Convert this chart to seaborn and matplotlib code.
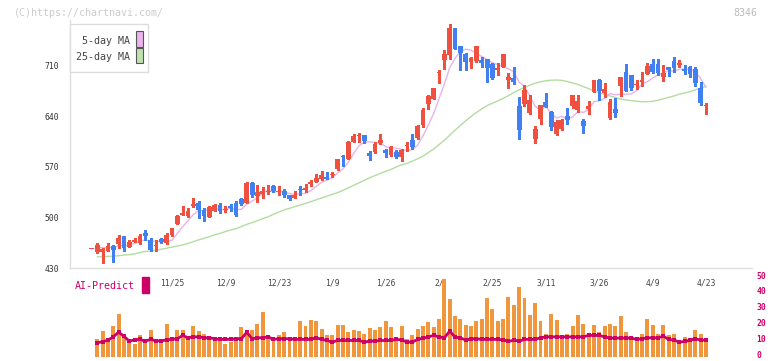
import numpy as np
import pandas as pd
import seaborn as sns
import matplotlib.pyplot as plt
from matplotlib.patches import Rectangle

# trading day index, 0 = 11/25
day = np.arange(-15, 101)

opens = [456, 451.7, 452.6, 453.6, 460.5, 463.3, 474.4, 459.1, 466.5, 465.1, 479.0, 468.8, 460.0, 470.2, 464.2,
         475.7, 491.0, 503.4, 502.1, 516.4, 520.1, 510.4, 501.1, 509.5, 517.3,
         510.4, 516.4, 520.5, 525.6, 520.5, 547.3, 530.2, 532.6, 535.8, 543.6,
         535.8, 536.7, 531.2, 527.5, 539.5, 538.1, 546.0, 549.7, 553.3, 556.1,
         559.5, 566.7, 584.3, 581.5, 605.1, 613.5, 614.3, 589.8, 591.2, 602.8,
         593.5, 586.6, 590.7, 584.3, 599.5, 607.4, 609.7, 628.2, 657.3, 664.2,
         700.5, 718.3, 725.7, 762.6, 737.7, 727.0, 715.0, 716.9, 718.3, 719.6,
         712.7, 704.4, 708.6, 690.5, 693.3, 654.5, 657.3, 644.8, 608.8, 636.5,
         660.1, 646.2, 615.7, 622.6, 640.7, 654.5, 649.0, 633.7, 650.4, 674.4,
         690.6, 672.5, 637.9, 650.4, 682.7, 701.6, 697.5, 684.0, 687.8, 699.3,
         712.7, 712.7, 695.2, 708.6, 716.9, 711.3, 705.8, 708.6, 705.8, 679.5,
         654.2]
highs = [456, 464.7, 458.2, 464.2, 461.9, 475.7, 474.4, 468.8, 472.0, 476.6, 482.7, 472.0, 468.8, 472.0, 478.0,
         486.0, 503.4, 516.0, 513.6, 527.5, 522.9, 512.7, 516.4, 518.7, 520.5,
         516.4, 518.7, 522.9, 527.5, 549.7, 548.7, 545.0, 542.7, 545.0, 545.0,
         544.0, 539.5, 531.5, 536.7, 544.0, 546.0, 552.0, 559.8, 564.4, 562.6,
         562.6, 581.5, 586.6, 606.5, 615.7, 617.6, 614.5, 592.1, 605.1, 615.7,
         594.9, 599.0, 593.5, 594.4, 604.2, 615.7, 627.7, 651.3, 669.8, 679.5,
         704.4, 732.1, 768.2, 762.6, 737.7, 727.5, 722.9, 737.7, 722.4, 719.6,
         714.6, 714.6, 727.0, 700.2, 708.6, 667.0, 683.6, 669.8, 626.8, 655.9,
         672.5, 647.6, 635.1, 636.0, 651.7, 669.8, 669.8, 636.5, 661.4, 690.6,
         692.0, 686.7, 664.4, 665.3, 694.7, 712.7, 697.5, 690.6, 701.6, 714.0,
         719.7, 719.7, 711.3, 708.6, 722.4, 718.3, 712.0, 710.0, 708.6, 687.8,
         658.7]
lows = [456, 450.8, 437.0, 453.0, 438.8, 457.3, 453.6, 459.0, 466.0, 463.7, 468.8, 453.6, 453.6, 464.2, 463.3,
        475.0, 491.0, 503.0, 501.0, 515.0, 498.8, 495.6, 501.0, 508.5, 506.7,
        508.0, 509.5, 502.5, 517.3, 520.0, 527.9, 522.0, 526.5, 532.6, 534.9,
        531.2, 528.9, 524.2, 527.0, 531.2, 534.9, 544.0, 549.0, 551.5, 553.0,
        556.6, 565.8, 571.8, 580.6, 604.0, 605.0, 602.8, 579.7, 588.9, 601.8,
        583.4, 585.2, 582.0, 578.7, 592.6, 594.4, 608.8, 625.9, 650.4, 664.2,
        686.8, 705.8, 719.6, 733.0, 704.4, 704.4, 706.7, 716.0, 709.0, 687.8,
        692.0, 697.5, 708.0, 679.5, 685.0, 608.8, 654.5, 643.4, 603.2, 629.6,
        653.0, 621.3, 615.0, 621.0, 629.6, 652.2, 646.7, 617.1, 643.4, 674.0,
        662.8, 667.5, 636.8, 639.0, 668.8, 675.8, 676.7, 678.3, 682.7, 699.3,
        700.3, 697.5, 689.6, 696.6, 701.6, 709.0, 698.9, 695.2, 682.7, 655.9,
        643.4]
closes = [456, 461.9, 456.3, 460.5, 455.0, 472.0, 458.2, 465.6, 468.8, 474.8, 474.8, 455.0, 460.5, 466.5, 475.7,
          485.0, 502.0, 506.7, 509.0, 518.7, 510.9, 502.5, 514.5, 517.3, 509.5,
          511.3, 513.2, 503.5, 518.7, 547.3, 531.2, 535.8, 537.2, 536.3, 536.7,
          536.2, 531.2, 525.6, 531.2, 538.1, 541.3, 549.7, 555.2, 558.9, 553.3,
          560.0, 580.6, 583.4, 605.1, 612.9, 614.0, 606.5, 585.7, 601.8, 607.4,
          589.8, 597.7, 583.4, 593.5, 599.7, 597.2, 626.8, 649.0, 668.4, 679.5,
          700.7, 726.6, 762.6, 733.5, 728.4, 715.0, 720.6, 737.7, 713.6, 707.6,
          693.3, 707.6, 726.6, 694.7, 687.8, 621.2, 676.7, 662.8, 622.6, 655.9,
          653.1, 625.4, 632.3, 635.1, 635.1, 669.8, 661.4, 626.8, 654.5, 690.5,
          675.5, 678.1, 660.3, 645.3, 694.7, 675.8, 680.0, 684.3, 690.6, 710.0,
          701.6, 700.3, 700.3, 704.4, 707.2, 714.1, 703.0, 698.9, 686.9, 659.1,
          654.8]
volume = [0,
          11.3, 16.5, 12.3, 20.0, 27.5, 15.0, 11.3, 8.1, 13.8, 11.3, 17.1, 11.3, 10.8, 21.3,
          11.3, 17.5, 17.1, 13.3, 20.0, 16.5, 15.0, 12.3, 10.2, 12.9,
          8.7, 9.6, 12.9, 19.2, 15.8, 16.9, 21.3, 28.3, 13.3, 11.7,
          13.8, 15.8, 12.9, 12.9, 22.7, 19.6, 23.8, 23.1, 18.1, 13.8,
          13.8, 20.6, 20.6, 15.8, 17.5, 16.5, 14.4, 18.5, 17.5, 19.2,
          22.7, 19.2, 11.3, 19.6, 11.5, 13.8, 18.1, 20.0, 22.1, 18.8,
          24.4, 49.4, 36.9, 26.3, 24.4, 20.6, 19.6, 23.1, 24.4, 37.5,
          30.6, 22.7, 24.4, 38.1, 33.1, 44.6, 37.5, 26.9, 34.4, 23.1,
          14.4, 27.5, 23.8, 13.8, 15.0, 19.6, 26.9, 21.3, 15.0, 20.6,
          15.8, 19.6, 21.3, 19.6, 26.3, 15.8, 10.6, 10.6, 14.4, 24.4,
          20.6, 15.0, 20.6, 13.8, 15.0, 10.6, 13.1, 11.3, 16.9, 15.0,
          11.9]
# from day -14 on
ai_predict = [9.2, 9.8, 10.8, 12.9, 15.8, 13.3, 10.2, 11.0, 11.3, 10.2, 11.3, 10.4, 10.4, 11.0,
              11.3, 11.7, 13.8, 12.3, 12.9, 12.9, 12.3, 12.3, 11.7, 11.3,
              11.3, 11.3, 11.7, 11.7, 15.8, 11.7, 12.3, 12.3, 12.9, 11.3,
              11.7, 11.7, 11.7, 11.3, 11.3, 11.3, 11.3, 12.3, 11.3, 10.6,
              9.6, 10.6, 10.6, 10.6, 10.6, 10.6, 9.6, 10.2, 10.2, 10.6,
              10.6, 10.6, 11.3, 11.0, 9.6, 9.6, 11.3, 12.0, 12.9, 13.8,
              12.9, 12.3, 16.5, 12.7, 12.3, 10.8, 11.7, 11.7, 11.3, 11.3,
              11.3, 11.3, 11.0, 10.0, 10.8, 10.2, 11.3, 11.3, 11.3, 12.3,
              12.9, 12.9, 12.9, 12.9, 12.9, 12.9, 12.9, 12.9, 13.8, 13.8,
              13.8, 12.9, 12.1, 12.1, 12.1, 12.1, 12.1, 11.3, 11.7, 12.3,
              12.3, 12.3, 13.3, 11.3, 10.8, 9.6, 10.0, 10.8, 11.7, 10.8,
              10.8]
ma25 = [445.5, 445.5, 446, 446.5, 447, 448, 448.5, 449.5, 451.5, 453, 453.5, 454.5, 456, 457.5,
        459, 460.5, 462, 464, 466.5, 469, 471, 473.5, 476, 478,
        480.5, 482.7, 484.5, 487.5, 490.5, 493, 495.5, 498.5, 501, 504.5,
        507.5, 510.5, 512.7, 515, 517.3, 519.5, 522, 524.5, 527, 529.5,
        532, 534.5, 537.5, 541, 544.5, 548, 551.5, 555, 558, 561,
        564, 566.5, 570, 573, 575, 578, 581.5, 585, 590, 595,
        601, 607, 614, 621, 627.5, 634, 640, 645.5, 650.5, 655,
        658.5, 661.5, 665, 669, 673, 677, 680, 683.5, 686, 688,
        689.5, 690.3, 690.5, 690, 688.5, 686.5, 684.3, 681.5, 678.5, 675.5,
        673, 670.5, 668.5, 666.5, 664, 663, 662, 661, 660.5, 660.5,
        661, 662.5, 664.5, 666.5, 668.5, 671, 672.5, 674.5, 677, 679.5,
        681.5]

date_pos = [0, 10, 20, 30, 40, 50, 60, 70, 80, 90, 100]
date_labels = ['11/25', '12/9', '12/23', '1/9', '1/26', '2/', '2/25', '3/11', '3/26', '4/9', '4/23']
price_ticks = [430, 500, 570, 640, 710]
vol_ticks = [0, 10, 20, 30, 40, 50]

sns.set_style('white')
plt.rcParams['font.family'] = ['DejaVu Sans Mono']

W, H = 772, 361
fig = plt.figure(figsize=(W / 100, H / 100), dpi=100)


def fx(px):
    return px / W


def fy(py):
    return 1 - py / H


xmin, xmax = -19.1, 108.6

df = pd.DataFrame({'day': day, 'open': opens, 'high': highs, 'low': lows,
                   'close': closes, 'volume': volume})
df['ma5'] = df['close'].rolling(5, min_periods=1).mean()
lines = pd.DataFrame({'day': day[1:], 'ma25': ma25, 'ma5': df['ma5'].values[1:], 'ai': ai_predict})

# price panel
ax = fig.add_axes([fx(70), fy(268), fx(682), 248 / H])
sns.lineplot(data=lines, x='day', y='ma25', ax=ax, color='#B4DCA0', linewidth=1, zorder=1)
sns.lineplot(data=lines, x='day', y='ma5', ax=ax, color='#E8B4E8', linewidth=1, zorder=1)

colors = np.where(df['close'] >= df['open'], '#F05040', '#4080F0')
ax.vlines(df['day'], df['low'], df['high'], colors=colors, linewidth=1, zorder=2,
          antialiased=False)
body = (df['close'] - df['open']).abs().clip(lower=1.4)
ax.bar(df['day'], body, bottom=df[['open', 'close']].min(axis=1), width=0.9,
       color=colors, linewidth=0, zorder=3, antialiased=False)

ax.set_xlim(xmin, xmax)
ax.set_ylim(430, 773.7)
ax.set_yticks(price_ticks)
ax.set_xticks(np.linspace(xmin, xmax, 12))
ax.set_xticklabels([])
ax.set_xlabel('')
ax.set_ylabel('')
ax.tick_params(axis='both', direction='inout', length=8, width=0.8, color='#DDDDDD')
ax.tick_params(axis='y', labelsize=5.8, labelcolor='#333333', pad=4)
for s in ['top', 'right']:
    ax.spines[s].set_visible(False)
for s in ['left', 'bottom']:
    ax.spines[s].set_color('#DDDDDD')
    ax.spines[s].set_linewidth(1)

for p, lab in zip(date_pos, date_labels):
    ax.text(p, -0.06, lab, transform=ax.get_xaxis_transform(), ha='center', va='center',
            fontsize=5.8, color='#444444')

# volume / AI panel
ax2 = fig.add_axes([fx(70), fy(357.3), fx(682), 79.3 / H])
ax2.patch.set_alpha(0)
ax2.bar(df['day'], df['volume'], width=0.74, color='#F0963C', linewidth=0, zorder=1,
        antialiased=False)
sns.lineplot(data=lines, x='day', y='ai', ax=ax2, color='#CC0066', linewidth=2,
             marker='s', markersize=2.5, markeredgewidth=0, zorder=3)
ax2.set_xlim(xmin, xmax)
ax2.set_ylim(0, 50)
ax2.set_yticks([])
ax2.set_xticks([])
ax2.set_xlabel('')
ax2.set_ylabel('')
sns.despine(ax=ax2, left=True, bottom=True)
# right-hand scale labels, nudged up a little so the 0 stays inside the figure
for v in vol_ticks:
    ax2.text(1.006, v + 1.2, str(v), transform=ax2.get_yaxis_transform(), ha='left',
             va='center', fontsize=5.8, color='#CC0066', fontweight='bold')

fig.text(fx(75), fy(286), 'AI-Predict', color='#CC0066', fontsize=7.2, va='center', ha='left')
fig.add_artist(Rectangle((fx(142), fy(292.7)), fx(6.7), 16 / H, transform=fig.transFigure,
                         color='#CC0066'))

fig.text(fx(14), fy(12.5), '(C)https://chartnavi.com/', color='#CCCCCC', fontsize=7.2, va='center')
fig.text(fx(757), fy(12.5), '8346', color='#BBBBBB', fontsize=7.2, va='center', ha='right')

# legend box
fig.add_artist(Rectangle((fx(70), fy(72)), fx(78), 48 / H, transform=fig.transFigure,
                         facecolor='white', edgecolor='#DDDDDD', linewidth=1, zorder=5))
fig.text(fx(130), fy(40.5), '5-day MA', ha='right', va='center', fontsize=7.2,
         color='#444444', zorder=6)
fig.text(fx(130), fy(57), '25-day MA', ha='right', va='center', fontsize=7.2,
         color='#444444', zorder=6)
fig.add_artist(Rectangle((fx(136), fy(46.7)), fx(6.7), 15.7 / H, transform=fig.transFigure,
                         facecolor='#EBB4EB', edgecolor='#555555', linewidth=0.8, zorder=6))
fig.add_artist(Rectangle((fx(136), fy(63.3)), fx(6.7), 15.7 / H, transform=fig.transFigure,
                         facecolor='#BEE1AF', edgecolor='#555555', linewidth=0.8, zorder=6))

fig.savefig('out.png', dpi=100)
